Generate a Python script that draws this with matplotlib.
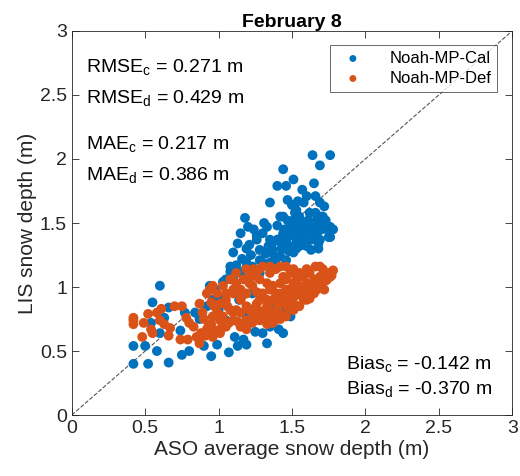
import matplotlib.pyplot as plt

plt.rcParams['font.family'] = ['Liberation Sans', 'DejaVu Sans']
plt.rcParams['mathtext.fontset'] = 'custom'
plt.rcParams['mathtext.rm'] = 'Liberation Sans'
plt.rcParams['mathtext.it'] = 'Liberation Sans'

# Noah-MP-Cal (blue) points
cal_x = [0.42, 0.52, 0.66, 0.42, 0.50, 0.58, 0.60, 0.60, 0.55, 0.66, 0.54, 0.63,
         0.75, 0.80, 0.74, 0.77, 0.84, 0.87, 0.90, 0.95, 0.99, 1.07, 0.94, 1.00,
         1.08, 1.10, 1.13, 1.15, 1.18, 1.20, 1.19, 1.24, 1.26, 1.30, 1.35, 1.40,
         1.44, 1.46, 1.51, 1.47, 1.53, 1.57, 1.60, 1.64, 1.76, 1.69, 1.65, 1.66,
         1.62, 1.67, 1.71, 1.76, 1.78, 1.75, 1.68, 1.63, 1.58, 1.55, 1.51, 1.46,
         1.42, 1.37, 1.40, 1.44, 1.49, 1.51, 1.55, 1.42, 1.33, 1.28, 1.33, 1.44,
         1.49, 1.41, 1.35, 1.33, 1.30, 1.25, 1.19, 1.13, 1.11, 1.17, 1.05, 1.00,
         1.19, 1.14, 1.23, 1.37, 1.44, 1.39, 1.10, 1.15, 1.19, 1.05, 0.96, 0.92,
         1.67, 1.70, 1.64, 1.60, 1.61, 1.72, 1.69, 1.58, 1.54, 1.50, 1.44, 1.46,
         1.53, 1.60, 1.63, 1.69, 1.76, 1.51, 1.42, 1.35, 1.35, 1.39, 1.30, 1.28,
         1.23, 1.48, 1.56, 1.59, 1.66, 1.72, 1.52, 1.47, 1.38, 1.43, 1.57, 1.62,
         1.45, 1.50, 1.55, 1.60, 1.65, 1.70, 1.48, 1.53, 1.58, 1.63, 1.68, 1.73,
         1.40, 1.45, 1.36, 1.32, 1.28, 1.22, 1.16, 1.12, 1.08, 1.03, 0.98, 1.21,
         1.26, 1.31, 1.47, 1.52, 1.56, 1.61, 1.66, 1.70, 1.74, 1.44, 1.39, 1.34]
cal_y = [0.40, 0.40, 0.41, 0.54, 0.54, 0.50, 0.64, 1.01, 0.88, 0.84, 0.72, 0.76,
         0.47, 0.50, 0.66, 0.80, 0.80, 0.75, 0.54, 0.46, 0.55, 0.49, 1.01, 0.93,
         1.16, 1.27, 1.34, 1.42, 1.54, 1.47, 1.30, 1.45, 1.37, 1.42, 1.66, 1.79,
         1.92, 1.79, 1.84, 1.68, 1.60, 1.76, 1.71, 2.03, 2.03, 1.95, 1.81, 1.71,
         1.58, 1.53, 1.55, 1.47, 1.45, 1.39, 1.30, 1.37, 1.42, 1.32, 1.27, 1.21,
         1.24, 1.29, 1.37, 1.42, 1.47, 1.52, 1.55, 1.55, 1.47, 1.29, 1.27, 0.64,
         0.77, 0.67, 0.69, 0.56, 0.64, 0.65, 0.55, 0.54, 0.61, 0.59, 0.74, 0.82,
         0.77, 0.90, 0.95, 0.85, 0.80, 0.75, 1.08, 1.11, 1.19, 1.06, 0.90, 0.85,
         1.42, 1.45, 1.47, 1.42, 1.52, 1.63, 1.66, 1.66, 1.67, 1.64, 1.55, 1.37,
         1.37, 1.32, 1.29, 1.37, 1.39, 1.32, 1.35, 1.37, 1.19, 1.16, 1.19, 1.11,
         1.16, 1.40, 1.48, 1.50, 1.45, 1.50, 1.44, 1.33, 1.24, 1.30, 1.36, 1.45,
         1.45, 1.49, 1.42, 1.47, 1.40, 1.49, 1.28, 1.30, 1.33, 1.40, 1.34, 1.52,
         1.48, 1.37, 1.33, 1.26, 1.21, 1.25, 1.22, 1.17, 1.12, 1.04, 0.98, 1.33,
         1.40, 1.50, 1.52, 1.58, 1.40, 1.44, 1.58, 1.55, 1.45, 1.30, 1.18, 1.32]

# Noah-MP-Def (orange) points
def_x = [0.42, 0.42, 0.49, 0.52, 0.48, 0.54, 0.55, 0.61, 0.58, 0.63, 0.67, 0.66,
         0.75, 0.74, 0.79, 0.78, 0.80, 0.83, 0.87, 0.87, 0.88, 0.92, 0.95, 0.96,
         0.94, 0.99, 1.03, 1.08, 1.10, 1.15, 1.21, 1.24, 1.30, 1.35, 1.39, 1.46,
         1.51, 1.55, 1.60, 1.66, 1.71, 1.76, 1.78, 1.74, 1.69, 1.65, 1.60, 1.55,
         1.51, 1.46, 1.42, 1.37, 1.33, 1.28, 1.23, 1.19, 1.15, 1.10, 1.05, 1.01,
         1.01, 1.08, 1.15, 1.21, 1.26, 1.33, 1.37, 1.42, 1.46, 1.51, 1.55, 1.60,
         1.65, 1.69, 1.51, 1.46, 1.42, 1.37, 1.33, 1.28, 1.23, 1.19, 1.15, 1.05,
         1.01, 0.97, 0.96, 0.94, 0.87, 0.85, 1.10, 1.19, 1.28, 1.30, 1.39, 1.44,
         1.48, 1.52, 1.58, 1.62, 1.67, 1.71, 1.76, 1.74, 1.69, 1.62, 1.58, 1.53,
         1.49, 1.44, 1.42, 1.35, 1.28, 1.26, 1.21, 1.17, 1.12, 1.10, 1.19, 1.12,
         1.05, 0.96, 0.92, 0.99, 1.03, 0.89, 0.90, 1.19, 1.23, 1.33, 1.37, 1.33,
         1.39, 1.58, 1.62, 1.67, 1.48, 0.42, 0.60, 0.70, 1.72, 1.64, 1.56, 1.40,
         1.52, 1.57, 1.62, 1.47, 1.42, 1.36, 1.31, 1.25, 1.18, 1.13, 1.07, 1.02,
         0.98, 0.93, 0.91, 1.68, 1.73, 1.77, 1.54, 1.49, 1.44, 1.35, 1.26, 1.16,
         1.06, 1.00, 0.95, 1.12, 1.24, 1.31, 1.45, 1.60, 1.70, 1.50, 1.40, 1.29]
def_y = [0.76, 0.71, 0.72, 0.79, 0.61, 0.67, 0.64, 0.83, 0.80, 0.71, 0.68, 0.62,
         0.85, 0.59, 0.59, 0.76, 0.72, 0.69, 0.87, 0.56, 0.64, 0.67, 0.71, 0.77,
         0.98, 0.95, 1.01, 1.06, 0.95, 0.98, 1.08, 1.14, 1.16, 1.11, 1.14, 1.16,
         1.14, 1.11, 1.14, 1.16, 1.14, 1.11, 1.13, 1.06, 1.01, 0.95, 0.90, 0.85,
         0.82, 0.77, 0.75, 0.72, 0.71, 0.74, 0.72, 0.67, 0.69, 0.74, 0.69, 0.64,
         0.74, 0.82, 0.80, 0.82, 0.87, 0.85, 0.90, 0.95, 0.98, 0.95, 1.01, 1.03,
         1.06, 1.08, 1.03, 1.06, 1.03, 1.01, 1.03, 1.06, 1.01, 0.95, 0.90, 0.90,
         0.87, 0.85, 0.61, 0.64, 0.59, 0.61, 0.80, 0.85, 0.90, 0.95, 0.82, 0.87,
         0.90, 0.93, 0.98, 1.01, 1.03, 1.06, 1.08, 1.11, 1.16, 1.11, 1.08, 1.06,
         1.11, 1.08, 1.16, 1.16, 1.14, 1.08, 1.03, 1.06, 1.03, 0.98, 1.14, 1.11,
         0.95, 1.01, 0.95, 0.80, 0.77, 0.80, 0.75, 0.74, 0.80, 0.80, 0.80, 0.90,
         0.95, 0.90, 0.95, 0.98, 0.98, 0.74, 0.74, 0.85, 0.98, 1.02, 0.96, 0.92,
         0.86, 0.93, 0.91, 0.84, 0.79, 0.76, 0.78, 0.77, 0.71, 0.73, 0.72, 0.68,
         0.66, 0.69, 0.62, 1.02, 1.05, 1.09, 0.99, 0.92, 0.90, 0.98, 0.96, 0.93,
         0.85, 0.79, 0.88, 0.82, 0.83, 0.78, 0.95, 0.96, 1.00, 0.88, 0.86, 0.81]

blue = '#0072BD'
orange = '#D95319'

fig = plt.figure(figsize=(5.2, 4.76), dpi=100)
ax = fig.add_axes([0.138, 0.128, 0.847, 0.807])

ax.plot([0, 3], [0, 3], '--', color='#555555', lw=0.8, zorder=1)
ax.scatter(cal_x, cal_y, s=50, color=blue, edgecolors='none', label='Noah-MP-Cal', zorder=2)
ax.scatter(def_x, def_y, s=50, color=orange, edgecolors='none', label='Noah-MP-Def', zorder=3)

ax.set_xlim(0, 3)
ax.set_ylim(0, 3)
ticks = [0, 0.5, 1, 1.5, 2, 2.5, 3]
ax.set_xticks(ticks)
ax.set_yticks(ticks)
ax.set_xticklabels(['0', '0.5', '1', '1.5', '2', '2.5', '3'])
ax.set_yticklabels(['0', '0.5', '1', '1.5', '2', '2.5', '3'])
ax.tick_params(direction='in', top=True, right=True, labelsize=14,
               colors='#262626', length=5, width=0.6)
for sp in ax.spines.values():
    sp.set_color('#262626')
    sp.set_linewidth(0.6)

ax.set_xlabel('ASO average snow depth (m)', fontsize=15, color='#262626', labelpad=2)
ax.set_ylabel('LIS snow depth (m)', fontsize=15, color='#262626', labelpad=2)
ax.set_title('February 8', fontsize=14, fontweight='bold', pad=3)

txt = dict(fontsize=14, va='center', ha='left', color='black')
ax.text(0.10, 2.72, r'RMSE$_{\mathrm{c}}$ = 0.271 m', **txt)
ax.text(0.10, 2.48, r'RMSE$_{\mathrm{d}}$ = 0.429 m', **txt)
ax.text(0.10, 2.12, r'MAE$_{\mathrm{c}}$ = 0.217 m', **txt)
ax.text(0.10, 1.875, r'MAE$_{\mathrm{d}}$ = 0.386 m', **txt)
ax.text(1.87, 0.40, r'Bias$_{\mathrm{c}}$ = -0.142 m', **txt)
ax.text(1.87, 0.20, r'Bias$_{\mathrm{d}}$ = -0.370 m', **txt)

leg = ax.legend(loc='upper right', fontsize=12, frameon=True, fancybox=False,
                edgecolor='#262626', handletextpad=1.2, borderpad=0.35,
                labelspacing=0.3, markerscale=0.7, bbox_to_anchor=(0.985, 0.985))
leg.get_frame().set_linewidth(0.6)

fig.savefig('out.png', dpi=100)
